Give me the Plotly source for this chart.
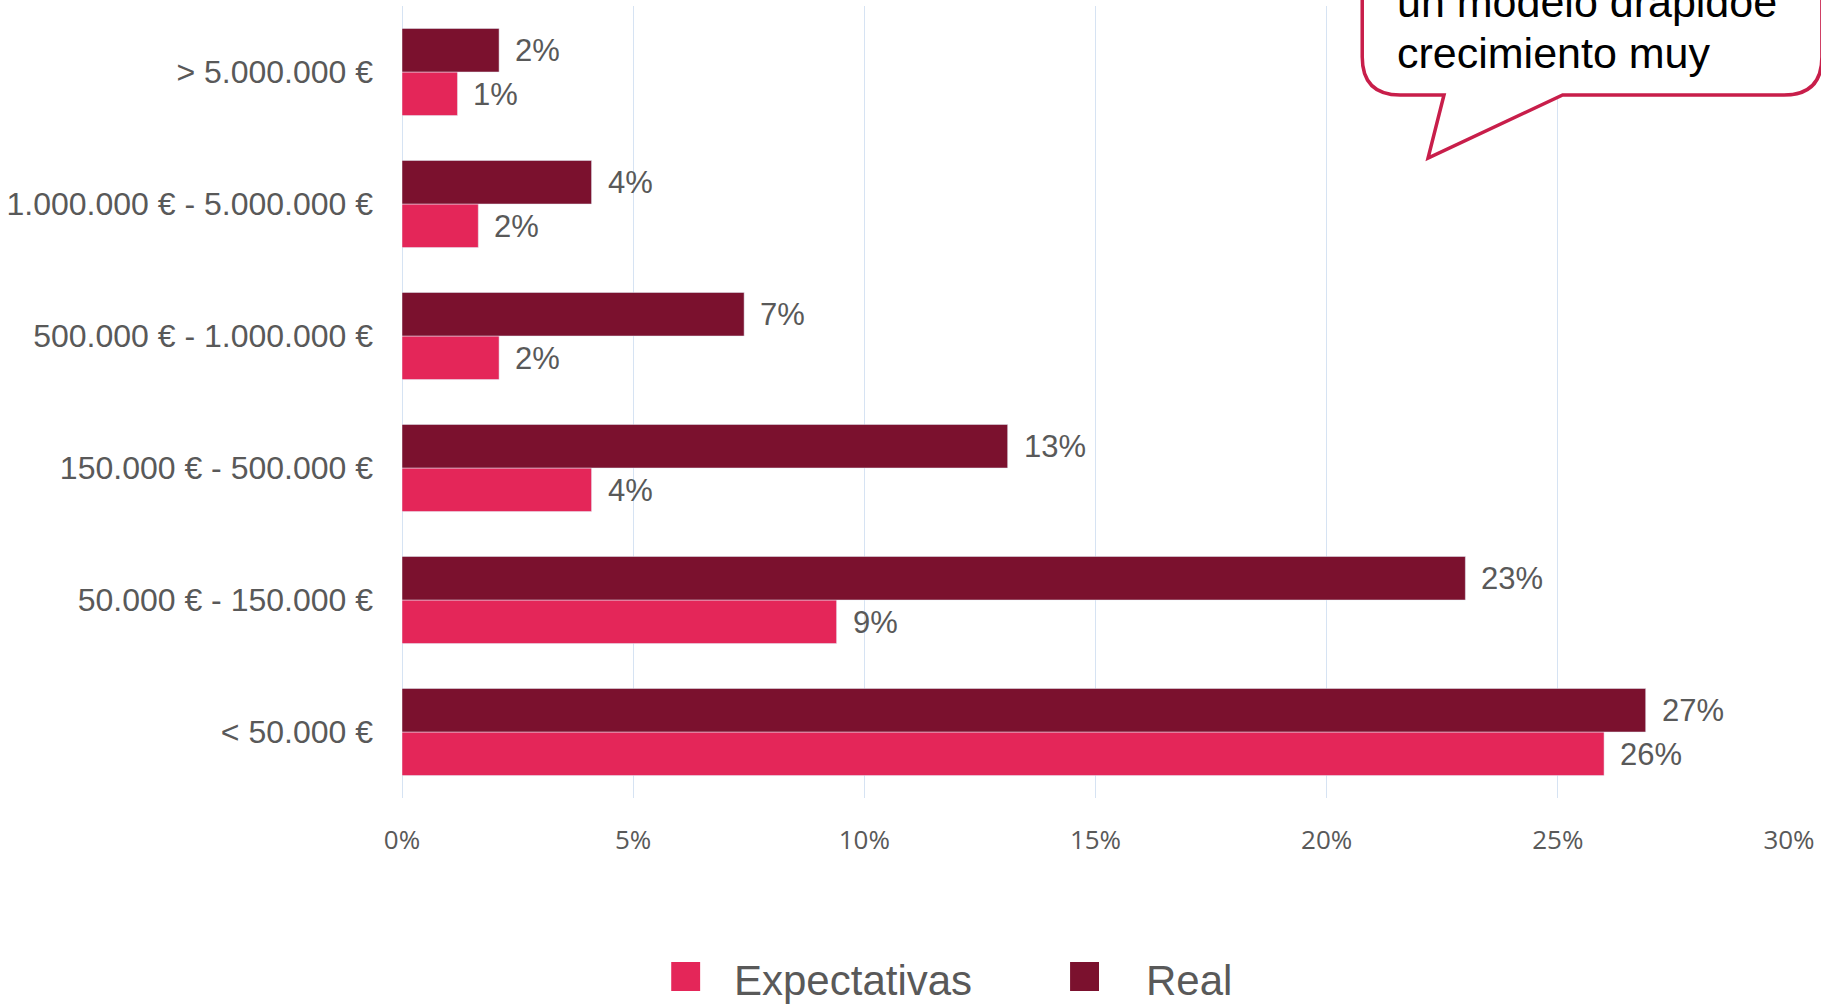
import plotly.graph_objects as go

categories = ["< 50.000 €", "50.000 € - 150.000 €", "150.000 € - 500.000 €",
              "500.000 € - 1.000.000 €", "1.000.000 € - 5.000.000 €", "> 5.000.000 €"]
expectativas = [26.0, 9.4, 4.1, 2.1, 1.65, 1.2]
real = [26.9, 23.0, 13.1, 7.4, 4.1, 2.1]
series_names = ["Expectativas", "Real"]
tick_vals = [0, 5, 10, 15, 20, 25, 30]
tick_text = ["0%", "5%", "10%", "15%", "20%", "25%", "30%"]
callout_lines = ["un modelo drapidoe", "crecimiento muy"]

COL_EXP = "#E42659"
COL_REAL = "#7B112E"
TXT = "#595959"
FONT = "Liberation Sans, Arial, sans-serif"

W, H = 1821, 1006
L, R, T, B = 398, 1789, 6, 798  # plot area in px


def px(x, y):
    return (x - L) / (R - L), (B - y) / (B - T)


fig = go.Figure()
fig.add_trace(go.Bar(y=categories, x=expectativas, orientation="h", name=series_names[0],
                     marker=dict(color=COL_EXP), showlegend=False))
fig.add_trace(go.Bar(y=categories, x=real, orientation="h", name=series_names[1],
                     marker=dict(color=COL_REAL), showlegend=False))

annotations = []
for cat, e, r in zip(categories, expectativas, real):
    annotations.append(dict(x=r, y=cat, xref="x", yref="y", text=f"{round(r)}%",
                            showarrow=False, xanchor="left", yanchor="middle",
                            xshift=14, yshift=22, font=dict(size=31, color=TXT, family=FONT)))
    annotations.append(dict(x=e, y=cat, xref="x", yref="y", text=f"{round(e)}%",
                            showarrow=False, xanchor="left", yanchor="middle",
                            xshift=14, yshift=-22, font=dict(size=31, color=TXT, family=FONT)))

shapes = []
# speech bubble callout
p = {
    "a": px(1361, -60), "b": px(1361, 57), "c": px(1361, 95), "d": px(1399, 95),
    "e": px(1443, 95), "f": px(1427, 158), "g": px(1562, 95), "h": px(1784, 95),
    "i": px(1822, 95), "j": px(1822, 57), "k": px(1822, -60),
}
path = (f"M{p['a'][0]},{p['a'][1]} L{p['b'][0]},{p['b'][1]} "
        f"Q{p['c'][0]},{p['c'][1]} {p['d'][0]},{p['d'][1]} "
        f"L{p['e'][0]},{p['e'][1]} L{p['f'][0]},{p['f'][1]} L{p['g'][0]},{p['g'][1]} "
        f"L{p['h'][0]},{p['h'][1]} Q{p['i'][0]},{p['i'][1]} {p['j'][0]},{p['j'][1]} "
        f"L{p['k'][0]},{p['k'][1]} Z")
shapes.append(dict(type="path", xref="paper", yref="paper", path=path,
                   fillcolor="white", line=dict(color="#C81E4A", width=3.5), layer="above"))

cx, cy1 = px(1394, 2)
_, cy2 = px(1394, 53)
annotations.append(dict(x=cx, y=cy1, xref="paper", yref="paper", text=callout_lines[0],
                        showarrow=False, xanchor="left", yanchor="middle",
                        font=dict(size=43, color="black", family=FONT)))
annotations.append(dict(x=cx, y=cy2, xref="paper", yref="paper", text=callout_lines[1],
                        showarrow=False, xanchor="left", yanchor="middle",
                        font=dict(size=43, color="black", family=FONT)))

# legend
leg = [(series_names[0], COL_EXP, 668, 729), (series_names[1], COL_REAL, 1068, 1142)]
for name, col, sx, tx in leg:
    x0, y0 = px(sx, 962)
    x1, y1 = px(sx + 29, 991)
    shapes.append(dict(type="rect", xref="paper", yref="paper", x0=x0, x1=x1, y0=y0, y1=y1,
                       fillcolor=col, line=dict(width=0)))
    ax, ay = px(tx, 980)
    annotations.append(dict(x=ax, y=ay, xref="paper", yref="paper", text=name, showarrow=False,
                            xanchor="left", yanchor="middle",
                            font=dict(size=42, color=TXT, family=FONT)))

fig.update_layout(
    width=W, height=H, autosize=False,
    margin=dict(l=L, r=W - R, t=T, b=H - B, pad=0),
    plot_bgcolor="white", paper_bgcolor="white",
    barmode="group", bargap=0.34, bargroupgap=0,
    showlegend=False,
    annotations=annotations, shapes=shapes,
    xaxis=dict(range=[0, 30], tickvals=tick_vals, ticktext=tick_text,
               showgrid=True, gridcolor="#D6E3F3", gridwidth=1,
               zeroline=True, zerolinecolor="#D6E3F3", zerolinewidth=1,
               showline=False, ticks="", ticklabelstandoff=24,
               tickfont=dict(size=26, color=TXT, family="Open Sans, " + FONT)),
    yaxis=dict(type="category", categoryorder="array", categoryarray=categories,
               range=[-0.5, 5.5], showgrid=False, zeroline=False, showline=False, ticks="",
               ticklabelstandoff=28,
               tickfont=dict(size=32, color=TXT, family=FONT)),
)

fig.write_html("out.html", config={"displayModeBar": False},
               post_script="document.body.style.margin='0';document.body.style.overflow='hidden';")
